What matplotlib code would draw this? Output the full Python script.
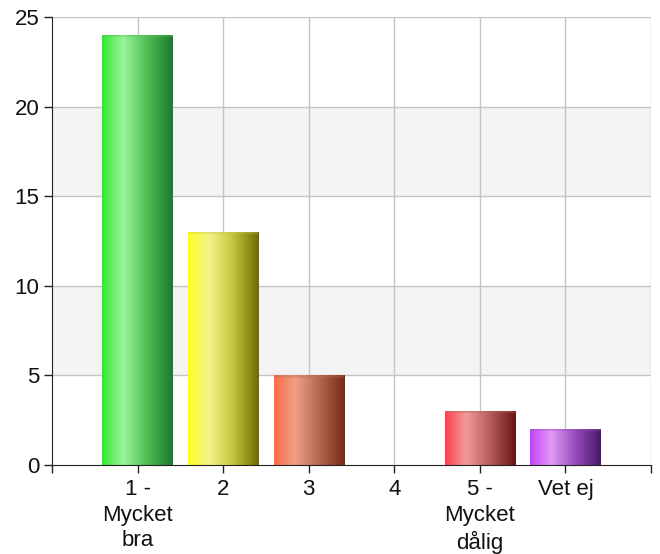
import numpy as np
import matplotlib
matplotlib.use("Agg")
import matplotlib.pyplot as plt
from matplotlib.colors import LinearSegmentedColormap

categories = ["1 -\nMycket\nbra", "2", "3", "4", "5 -\nMycket\ndålig", "Vet ej"]
values = [24, 13, 5, 0, 3, 2]
yticks = [0, 5, 10, 15, 20, 25]
bar_colors = [
    ["#2fe82f", "#9af59a", "#55c055", "#1c7a2c"],
    ["#ffff20", "#f2f28a", "#c8c840", "#6e6a00"],
    ["#ff6a45", "#f0a088", "#b86a55", "#7a2a14"],
    ["#ff4050", "#f29a9a", "#b86060", "#6a1515"],
    ["#c043ff", "#e49af5", "#9a50c0", "#4a1868"],
]
color_for = [0, 1, 2, 2, 3, 4]

plt.rcParams['font.family'] = ['Liberation Sans', 'DejaVu Sans']

fig = plt.figure(figsize=(6.6, 5.54), dpi=100)
ax = fig.add_axes([52/660, 1-465/554, (651-52)/660, (465-17)/554])

x = np.arange(len(categories))
ax.set_xlim(-1, len(categories))
ax.set_ylim(0, 25)

# alternating bands
for lo in (5, 15):
    ax.axhspan(lo, lo+5, color="#f3f3f3", zorder=0, lw=0)

bars = ax.bar(x, values, width=0.82, facecolor="none", edgecolor="none", zorder=3)
grad = np.linspace(0, 1, 256)
for b, ci in zip(bars, color_for):
    h = b.get_height()
    if h <= 0:
        continue
    cols = bar_colors[ci]
    cmap = LinearSegmentedColormap.from_list("g", list(zip([0, 0.3, 0.62, 1.0], cols)))
    x0, w = b.get_x(), b.get_width()
    im = ax.imshow(grad[None, :], cmap=cmap, aspect="auto",
                   extent=[x0, x0 + w, 0, h], zorder=3, interpolation="bilinear")
    im.set_clip_path(b)
    # thin top cap
    ax.fill_between([x0, x0 + w], h - 0.12, h, color=cols[2], alpha=0.35, zorder=4, lw=0)

ax.set_xlim(-1, len(categories))
ax.set_ylim(0, 25)

ax.set_yticks(yticks)
ax.set_xticks(list(range(-1, len(categories) + 1)))
ax.set_xticklabels([""] + categories + [""], linespacing=1.3)

for t in yticks[1:]:
    ax.axhline(t, color="#c4c4c4", lw=1, zorder=1)
for xi in list(x) + [len(categories)]:
    ax.axvline(xi, color="#c4c4c4", lw=1, zorder=1)

for s in ["top", "right"]:
    ax.spines[s].set_visible(False)
ax.spines["left"].set_color("#222222")
ax.spines["bottom"].set_color("#222222")
ax.spines["left"].set_zorder(5)
ax.spines["bottom"].set_zorder(5)

ax.tick_params(axis="both", labelsize=16, colors="#222222", length=6, width=1, pad=3)
ax.tick_params(axis="x", pad=4)
for lab in ax.get_xticklabels() + ax.get_yticklabels():
    lab.set_color("#111111")

fig.savefig("out.png", dpi=100, facecolor="white")
